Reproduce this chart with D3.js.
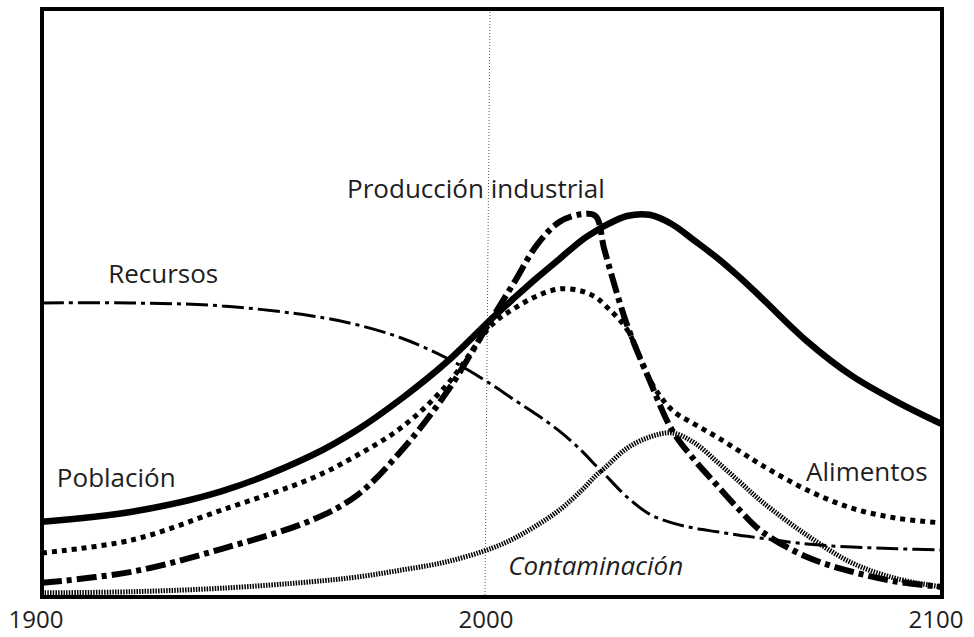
<!DOCTYPE html>
<html>
<head>
<meta charset="utf-8">
<script src="https://cdn.jsdelivr.net/npm/d3@7"></script>
<style>
body { margin: 0; background: #fff; }
svg { display: block; }
.lbl { font-family: "Open Sans", sans-serif; font-size: 26px; fill: #1e1e1e; }
.tick { font-size: 24px; }
</style>
</head>
<body>
<div id="chart"><svg></svg></div>
<script>
// years sampled along every curve
var years = [1900, 1920, 1940, 1960, 1970, 1980, 1990, 2000, 2005, 2010, 2015, 2020,
	2023, 2025, 2030, 2035, 2040, 2045, 2050, 2055, 2060, 2070, 2080, 2090, 2100];

// relative levels, 0 = floor of the box, 100 = top
var poblacion = [12.8, 14.5, 18.0, 24.1, 28.4, 33.8, 40.0, 47.4, 50.9, 54.3, 57.5, 60.7,
	62.2, 63.1, 64.8, 65.0, 63.4, 60.6, 57.7, 54.4, 50.8, 43.5, 37.6, 33.2, 29.4];
var alimentos = [7.5, 9.7, 14.8, 20.2, 24.1, 28.9, 36.1, 46.3, 49.1, 51.2, 52.4, 52.0,
	51.0, 49.7, 45.5, 37.0, 31.8, 29.4, 27.2, 24.8, 22.4, 18.2, 15.1, 13.4, 12.6];
var produccion = [2.4, 4.3, 8.2, 13.1, 17.3, 25.0, 34.9, 47.4, 53.6, 59.9, 63.8, 65.1,
	64.8, 59.0, 46.3, 36.9, 28.4, 23.3, 19.0, 14.8, 11.1, 6.8, 4.3, 2.6, 1.7];
var recursos = [50.0, 50.0, 49.5, 47.8, 46.3, 44.0, 40.6, 36.1, 33.5, 31.0, 28.2, 24.8,
	22.4, 20.9, 17.0, 14.1, 12.6, 11.7, 11.1, 10.5, 10.0, 9.0, 8.5, 8.2, 8.0];
var contaminacion = [0.7, 0.9, 1.5, 2.6, 3.4, 4.6, 6.0, 8.3, 10.0, 12.2, 14.8, 18.2,
	20.6, 21.9, 25.3, 27.2, 27.9, 26.2, 23.0, 19.6, 16.2, 10.5, 5.8, 3.1, 1.7];

var tickYears = [1900, 2000, 2100];

var W = 974, H = 637;
var mg = {top: 9, right: 32, bottom: 40, left: 42};
var svg = d3.select("#chart svg").attr("width", W).attr("height", H);

var x = d3.scaleLinear().domain([1900, 2100]).range([mg.left, W - mg.right]);
var y = d3.scaleLinear().domain([0, 100]).range([H - mg.bottom, mg.top]);

svg.append("defs").append("clipPath").attr("id", "box")
	.append("rect")
	.attr("x", x(1900)).attr("y", y(100))
	.attr("width", x(2100) - x(1900)).attr("height", y(0) - y(100));

// dotted marker for the year 2000
svg.append("line")
	.attr("x1", x(2000) - 2).attr("x2", x(2000) - 7)
	.attr("y1", y(100)).attr("y2", y(0))
	.attr("stroke", "#555").attr("stroke-width", 1)
	.attr("stroke-dasharray", "1,2");

var series = [
	{name: "recursos", vals: recursos, w: 3, dash: "22,5,4,5"},
	{name: "contaminacion", vals: contaminacion, w: 5, dash: "1.5,1.2"},
	{name: "alimentos", vals: alimentos, w: 5, dash: "5,5"},
	{name: "produccion", vals: produccion, w: 6, dash: "20,5,5,5"},
	{name: "poblacion", vals: poblacion, w: 6.5, dash: null}
];

var line = d3.line()
	.x(function(d){ return x(d[0]); })
	.y(function(d){ return y(d[1]); })
	.curve(d3.curveCatmullRom.alpha(0.5));

var g = svg.append("g").attr("clip-path", "url(#box)");
series.forEach(function(s){
	g.append("path")
		.datum(d3.zip(years, s.vals))
		.attr("class", "serie " + s.name)
		.attr("d", line)
		.attr("fill", "none")
		.attr("stroke", "#000")
		.attr("stroke-width", s.w)
		.attr("stroke-dasharray", s.dash);
});

// frame
svg.append("rect")
	.attr("x", x(1900)).attr("y", y(100))
	.attr("width", x(2100) - x(1900)).attr("height", y(0) - y(100))
	.attr("fill", "none").attr("stroke", "#000").attr("stroke-width", 4);

// curve names, placed in chart units
var labels = [
	{t: "Producción industrial", yr: 1967.8, v: 67.9},
	{t: "Recursos", yr: 1914.7, v: 53.4},
	{t: "Población", yr: 1903.3, v: 18.7},
	{t: "Alimentos", yr: 2069.8, v: 19.7},
	{t: "Contaminación", yr: 2003.6, v: 3.7, it: true}
];
svg.selectAll("text.name").data(labels).enter().append("text")
	.attr("class", "lbl name")
	.attr("x", function(d){ return x(d.yr); })
	.attr("y", function(d){ return y(d.v); })
	.style("font-style", function(d){ return d.it ? "italic" : "normal"; })
	.text(function(d){ return d.t; });

svg.selectAll("text.tick").data(tickYears).enter().append("text")
	.attr("class", "lbl tick")
	.attr("x", function(d){ return x(d) - 6; })
	.attr("y", H - 9)
	.attr("text-anchor", "middle")
	.text(function(d){ return d; });
</script>
</body>
</html>
